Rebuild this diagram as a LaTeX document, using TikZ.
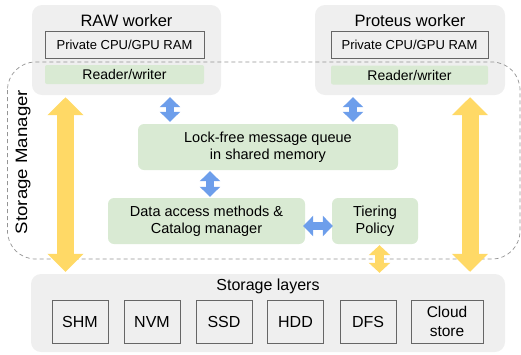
\documentclass[tikz,border=0pt]{standalone}
\usepackage{fontspec}
\setmainfont{Liberation Sans}
\usetikzlibrary{arrows.meta,positioning,calc}
\definecolor{wgrey}{HTML}{EFEFEF}
\definecolor{rgreen}{HTML}{D9EAD3}
\definecolor{ablue}{HTML}{6D9EEB}
\definecolor{ayellow}{HTML}{FFD966}
\definecolor{dgrey}{HTML}{666666}
\tikzset{
  wbox/.style={fill=wgrey,rounded corners=10pt,minimum width=189pt,minimum height=90pt,inner sep=0pt},
  wtitle/.style={font=\fontsize{16.5}{19}\selectfont,inner sep=0pt},
  ram/.style={draw=dgrey,line width=0.8pt,minimum width=159pt,minimum height=27pt,inner sep=0pt,
              font=\fontsize{13}{15}\selectfont},
  rw/.style={fill=rgreen,rounded corners=2pt,minimum width=159pt,minimum height=19pt,inner sep=0pt,
             font=\fontsize{14}{16}\selectfont},
  gbox/.style={fill=rgreen,rounded corners=6pt,minimum height=46pt,inner sep=0pt,align=center,
               font=\fontsize{14.5}{17}\selectfont},
  layer/.style={draw=dgrey,line width=0.8pt,minimum width=56pt,minimum height=43pt,inner sep=0pt,
                align=center,font=\fontsize{16}{19}\selectfont},
  yarr/.style={draw=ayellow,line width=17pt,{Triangle[width=35pt,length=18pt]}-{Triangle[width=35pt,length=18pt]}},
  sarr/.style={draw=ayellow,line width=9pt,{Triangle[width=21pt,length=10pt]}-{Triangle[width=21pt,length=10pt]}},
  barr/.style={draw=ablue,line width=8pt,{Triangle[width=20pt,length=10pt]}-{Triangle[width=20pt,length=10pt]}},
}
\begin{document}
\begin{tikzpicture}[x=1pt,y=-1pt]
\useasboundingbox (0,0) rectangle (521,354);
% workers
\node[wbox] (raw) at (126.5,50) {};
\node[wtitle] (rawt) at (126.5,21) {RAW worker};
\node[ram] (rawram) at (124.5,44.5) {Private CPU/GPU RAM};
\node[rw] (rawrw) at (124.5,74.5) {Reader/writer};
\node[wbox,minimum width=190pt] (prot) at (410,50) {};
\node[wtitle] (prott) at (410,21) {Proteus worker};
\node[ram,minimum width=157pt] (proram) at (409.5,44.5) {Private CPU/GPU RAM};
\node[rw,minimum width=157pt] (prorw) at (409.5,75) {Reader/writer};
% storage manager
\draw[dgrey!70,line width=0.7pt,dash pattern=on 4pt off 3pt,rounded corners=28pt] (7.5,62) rectangle (520,259);
\node[rotate=90,font=\fontsize{16.5}{19}\selectfont,inner sep=0pt] (smlbl) at (23,162)
  {\scalebox{1.13}[1]{Storage Manager}};
\node[gbox,minimum width=260pt] (queue) at (268,147) {Lock-free message queue\\in shared memory};
\node[gbox,minimum width=197pt] (dam) at (206.5,221) {Data access methods \&\\Catalog manager};
\node[gbox,minimum width=86pt] (tier) at (375,221) {Tiering\\Policy};
% storage layers
\node[wbox,minimum width=474pt,minimum height=78pt] (store) at (268,313) {};
\node[wtitle,font=\fontsize{16}{19}\selectfont] (storet) at (268,286) {Storage layers};
\foreach \n/\x/\t in {shm/80/SHM,nvm/152/NVM,ssd/224/SSD,hdd/295.5/HDD,dfs/368/DFS}
  \node[layer] (\n) at (\x,321.5) {\t};
\node[layer,minimum width=72pt,font=\fontsize{15.5}{19}\selectfont] (cloud) at (447,321.5) {Cloud\\store};
% data paths
\draw[yarr,shorten <=2pt,shorten >=2pt] ([xshift=-61pt]raw.south) -- ([xshift=-61pt]raw.south |- store.north);
\draw[yarr,shorten <=2pt,shorten >=2pt] ([xshift=60pt]prot.south) -- ([xshift=60pt]prot.south |- store.north);
\draw[barr,shorten <=2pt,shorten >=2pt] ([xshift=43.5pt]raw.south) -- ([xshift=43.5pt]raw.south |- queue.north);
\draw[barr,shorten <=2pt,shorten >=2pt] ([xshift=-57pt]prot.south) -- ([xshift=-57pt]prot.south |- queue.north);
\draw[barr,shorten <=1pt,shorten >=1pt] ([xshift=3.5pt]dam.north |- queue.south) -- ([xshift=3.5pt]dam.north);
\draw[barr,shorten <=-2pt,shorten >=-1pt] ([yshift=-5pt]dam.east) -- ([yshift=-5pt]tier.west);
\draw[sarr,shorten <=1pt,shorten >=1pt] ([xshift=4.5pt]tier.south) -- ([xshift=4.5pt]tier.south |- store.north);
\end{tikzpicture}
\end{document}
